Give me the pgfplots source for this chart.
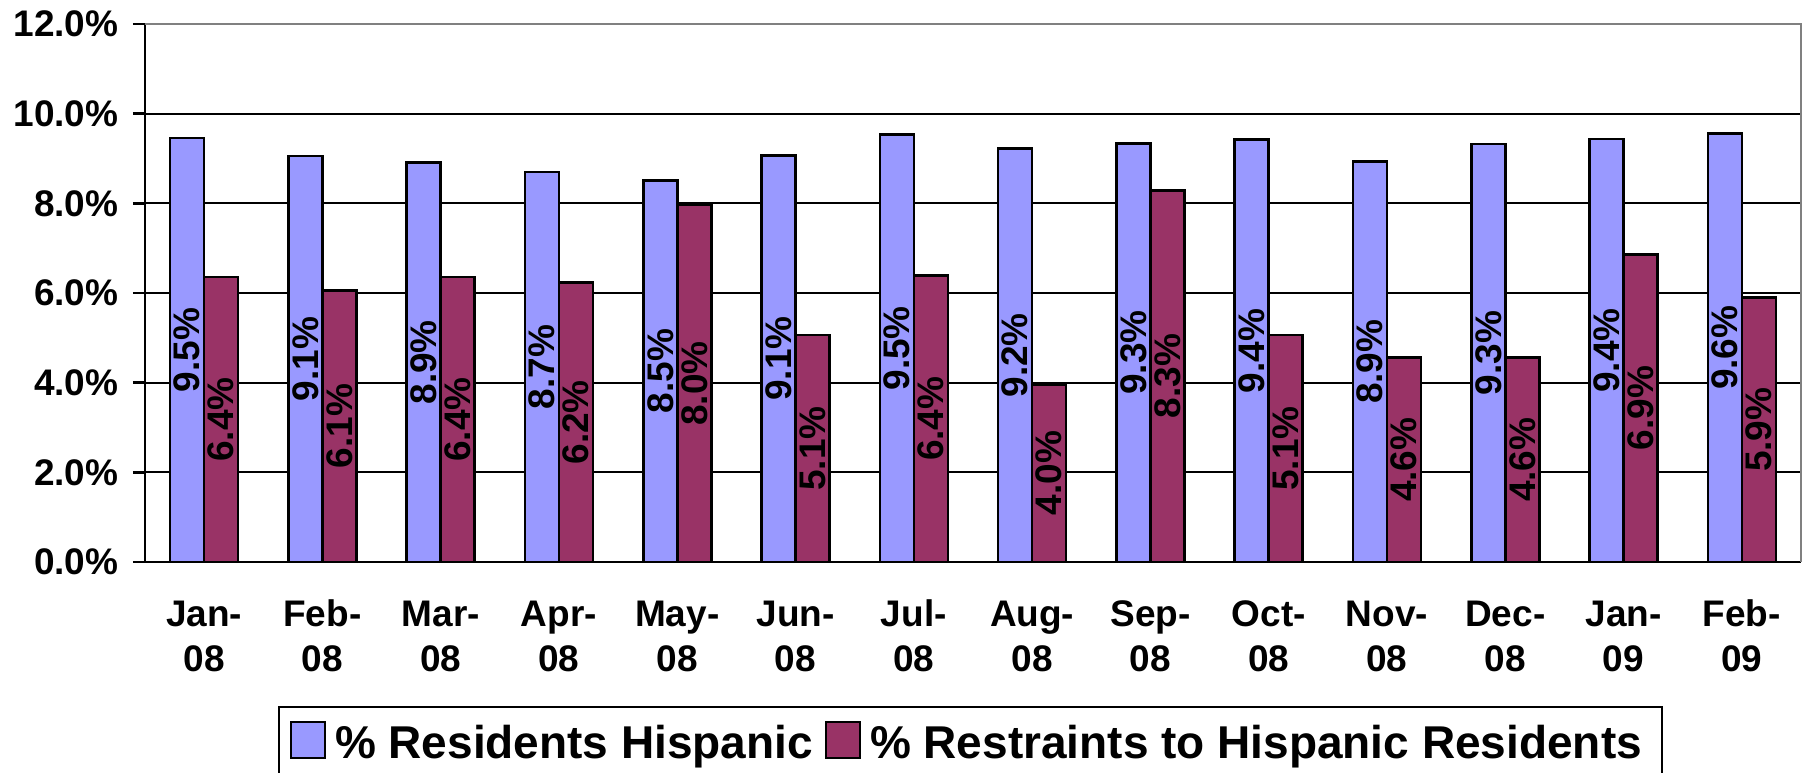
\documentclass[border=0pt]{standalone}
\usepackage{fontspec}
\setmainfont{Liberation Sans}
\usepackage{pgfplots}
\pgfplotsset{compat=1.18}

\definecolor{resblue}{HTML}{9999FF}
\definecolor{resmaroon}{HTML}{993366}

\newcommand{\tickfont}{\fontsize{37}{45}\selectfont\bfseries}
\newcommand{\legfont}{\fontsize{46}{55}\selectfont\bfseries}

\begin{document}
\begin{tikzpicture}
\begin{axis}[
    scale only axis,
    width=1656pt,
    height=538pt,
    ybar=0pt,
    bar width=34pt,
    xmin=-0.5, xmax=13.5,
    ymin=0, ymax=12,
    axis x line*=bottom,
    axis y line*=left,
    axis line style={black, line width=2.5pt},
    xtick={0,...,13},
    xticklabels={{Jan-\\08},{Feb-\\08},{Mar-\\08},{Apr-\\08},{May-\\08},{Jun-\\08},{Jul-\\08},
                 {Aug-\\08},{Sep-\\08},{Oct-\\08},{Nov-\\08},{Dec-\\08},{Jan-\\09},{Feb-\\09}},
    xtick style={draw=none},
    minor xtick={-0.5,0.5,...,13.5},
    minor tick style={black, line width=2.5pt},
    ytick={0,2,...,12},
    yticklabels={0.0\%,2.0\%,4.0\%,6.0\%,8.0\%,10.0\%,12.0\%},
    ytick style={black, line width=2.5pt},
    tick align=outside,
    major tick length=12pt,
    minor tick length=12pt,
    ymajorgrids,
    major grid style={black, line width=2pt},
    ticklabel style={font=\tickfont},
    xticklabel style={align=center, anchor=north, text height=28pt, yshift=-66pt},
    yticklabel style={xshift=-11pt},
    /pgf/number format/assume math mode=true,
    visualization depends on=y \as \rawy,
    nodes near coords={\pgfmathprintnumber[fixed,fixed zerofill,precision=1]{\pgfplotspointmeta}\%},
    nodes near coords style={shift={(axis direction cs:0,-\rawy/2)}, rotate=90, anchor=center,
                             font=\tickfont, text=black},
    legend columns=-1,
    legend style={at={(0.4985,-0.2677)}, anchor=north, draw=black, line width=2pt,
                  font=\legfont, inner xsep=11pt, inner ysep=14pt,
                  nodes={inner xsep=9pt, inner ysep=4pt},
                  /tikz/every even column/.append style={column sep=3pt}},
    legend image code/.code={\draw[#1, line width=2pt] (0pt,-15pt) rectangle (34pt,21pt);},
    after end axis/.code={
        \draw[gray, line width=2pt] (rel axis cs:0,1) -- (rel axis cs:1,1) -- (rel axis cs:1,0);
    },
]
\addplot[fill=resblue, draw=black, line width=2.5pt] coordinates {
    (0,9.46) (1,9.06) (2,8.91) (3,8.70) (4,8.51) (5,9.07) (6,9.53)
    (7,9.22) (8,9.34) (9,9.42) (10,8.93) (11,9.32) (12,9.43) (13,9.56)
};
\addplot[fill=resmaroon, draw=black, line width=2.5pt] coordinates {
    (0,6.36) (1,6.06) (2,6.36) (3,6.23) (4,7.96) (5,5.06) (6,6.39)
    (7,3.96) (8,8.29) (9,5.06) (10,4.56) (11,4.56) (12,6.86) (13,5.90)
};
\legend{\% Residents Hispanic, \% Restraints to Hispanic Residents}
\end{axis}
\pgfresetboundingbox
\useasboundingbox (-145pt,-211pt) rectangle (1664pt,562pt);
\end{tikzpicture}
\end{document}
